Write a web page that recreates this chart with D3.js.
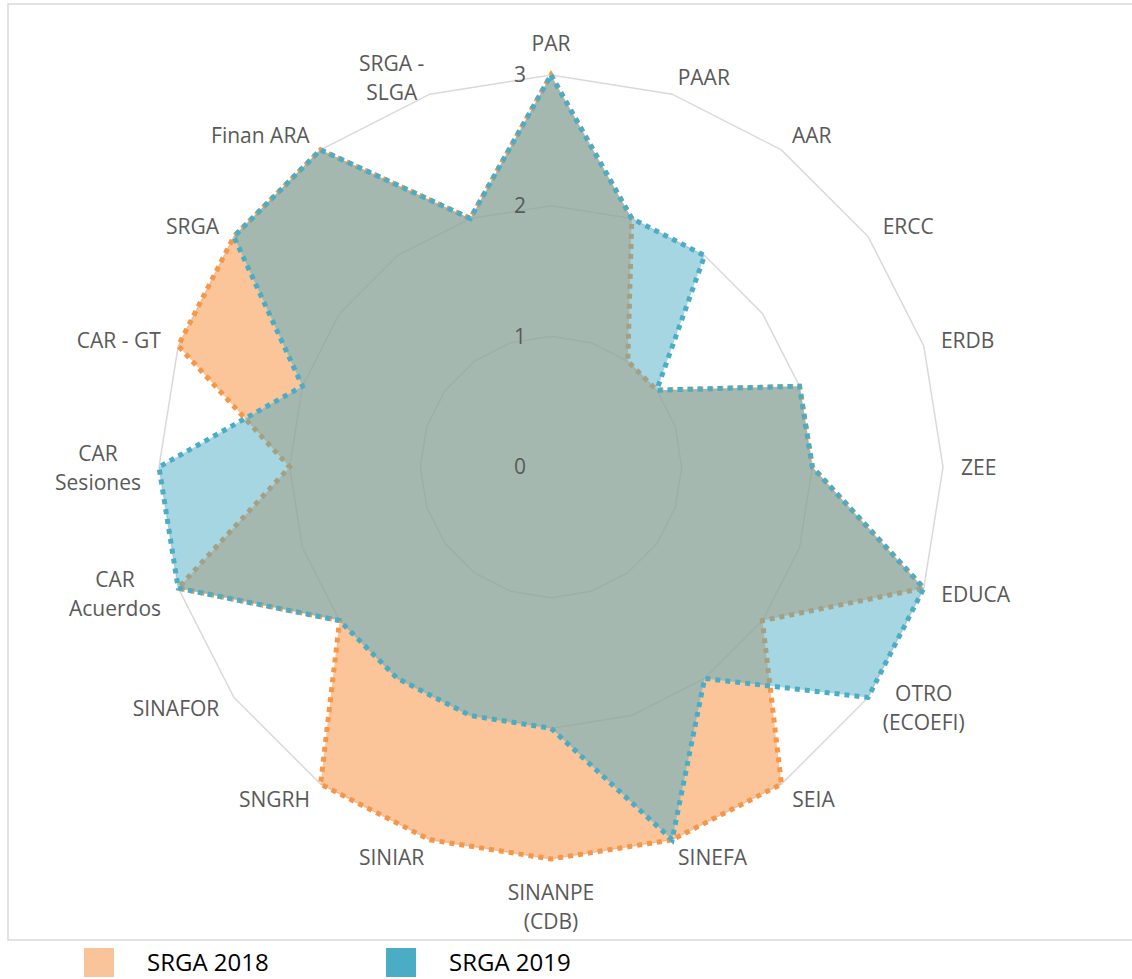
<!DOCTYPE html>
<html><head><meta charset="utf-8">
<script src="https://cdn.jsdelivr.net/npm/d3@7"></script>
<style>
html,body{margin:0;padding:0;background:#fff;}
svg{display:block;}
text{font-family:"Open Sans",sans-serif;}
</style></head>
<body>
<svg id="chart" width="1132" height="979"></svg>
<script>
const categories = ["PAR","PAAR","AAR","ERCC","ERDB","ZEE","EDUCA","OTRO\n(ECOEFI)","SEIA","SINEFA","SINANPE\n(CDB)","SINIAR","SNGRH","SINAFOR","CAR\nAcuerdos","CAR\nSesiones","CAR - GT","SRGA","Finan ARA","SRGA -\nSLGA"];
const srga2018 = [3,2,1,1,2,2,3,2,3,3,3,3,3,2,3,2,3,3,3,2];
const srga2019 = [3,2,2,1,2,2,3,3,2,3,2,2,2,2,3,3,2,3,3,2];
const tickValues = [0,1,2,3];
const seriesNames = ["SRGA 2018","SRGA 2019"];

const svg = d3.select("#chart");
const cx = 551, cy = 467, R = 392;
const r = d3.scaleLinear().domain([0,3]).range([0,R]);
const n = categories.length;
const ang = d3.scaleLinear().domain([0,n]).range([0,2*Math.PI]);
const pt = (i,v) => [cx + r(v)*Math.sin(ang(i)), cy - r(v)*Math.cos(ang(i))];

// frame
svg.append("rect").attr("x",8).attr("y",4).attr("width",1140).attr("height",936)
  .attr("fill","none").attr("stroke","#d9d9d9").attr("stroke-width",1.5);

// grid rings
const ringLine = d3.line();
tickValues.filter(t=>t>0).forEach(t=>{
  const pts = d3.range(n).map(i=>pt(i,t));
  svg.append("path").attr("d", ringLine(pts)+"Z")
    .attr("fill","none").attr("stroke","#d9d9d9").attr("stroke-width",1.5);
});

const radial = d3.lineRadial().angle((d,i)=>ang(i)).radius(d=>r(d)).curve(d3.curveLinearClosed);
const g = svg.append("g").attr("transform",`translate(${cx},${cy})`);

const series = [
  {vals:srga2018, fill:"rgba(247,150,70,0.55)", stroke:"#f79646"},
  {vals:srga2019, fill:"rgba(75,172,198,0.49)", stroke:"#4bacc6"}
];
series.forEach(s=>{
  g.append("path").attr("d", radial(s.vals)).attr("fill", s.fill).attr("stroke","none");
  g.append("path").attr("d", radial(s.vals)).attr("fill","none")
    .attr("stroke", s.stroke).attr("stroke-width",5).attr("stroke-dasharray","5 5")
    .attr("stroke-linejoin","miter");
});

// tick labels
tickValues.forEach(t=>{
  svg.append("text").attr("x", cx-25).attr("y", cy - r(t)).attr("dy","0.35em")
    .attr("text-anchor","end").attr("font-size",21).attr("fill","#595959").text(t);
});

// category labels
const lh = 29, fs = 21, gap = 18;
categories.forEach((c,i)=>{
  const lines = c.split("\n");
  const a = ang(i), s = Math.sin(a), co = Math.cos(a);
  const ax = cx + (R+gap)*s, ay = cy - (R+gap)*co;
  const t = svg.append("text").attr("font-size",fs).attr("fill","#595959").attr("text-anchor","middle");
  lines.forEach((l,k)=>t.append("tspan").attr("x",0).attr("dy", k===0?0:lh).text(l));
  const bb = t.node().getBBox();
  const w = bb.width, h = lines.length*lh;
  let bxc, byc;
  if (Math.abs(s) < 0.01) { bxc = ax; byc = ay - co*h/2; }
  else { bxc = s > 0 ? ax + w/2 : ax - w/2; byc = ay; }
  const y0 = byc - h/2 + lh/2;
  t.selectAll("tspan").attr("x", bxc).attr("dominant-baseline","central");
  t.attr("transform", `translate(0,${y0})`);
});

// legend
const legendColors = ["#f9c499","#4bacc6"];
seriesNames.forEach((nm,i)=>{
  const x0 = 84 + i*302;
  svg.append("rect").attr("x",x0).attr("y",948).attr("width",30).attr("height",29).attr("fill",legendColors[i]);
  svg.append("text").attr("x",x0+63).attr("y",971).attr("font-size",24).attr("fill","#000").text(nm);
});
</script>
</body></html>
